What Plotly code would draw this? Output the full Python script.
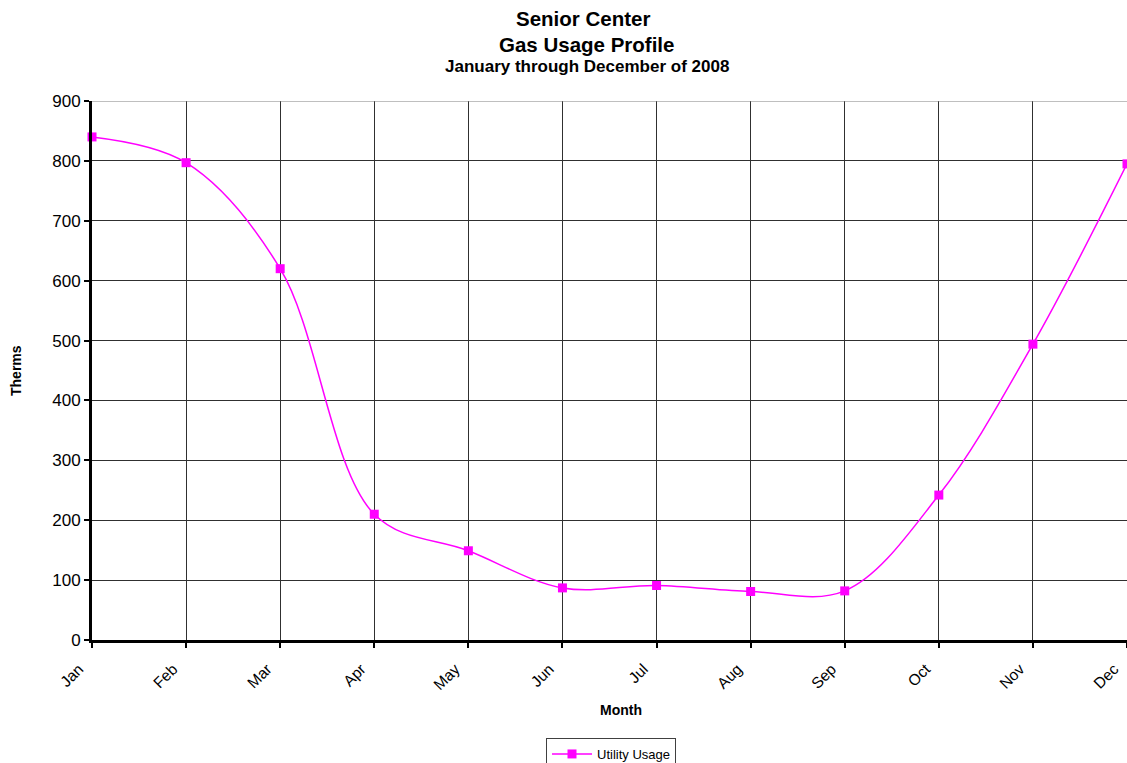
import plotly.graph_objects as go

months = ["Jan", "Feb", "Mar", "Apr", "May", "Jun", "Jul", "Aug", "Sep", "Oct", "Nov", "Dec"]
usage = [840, 797, 620, 210, 149, 87, 91, 81, 82, 242, 494, 795]
series_name = "Utility Usage"

FONT = "Arial, Liberation Sans, sans-serif"

L, R, T, B = 92, 0, 101, 123
W, H = 1127, 763
pw = W - L - R
ph = H - T - B


def px_x(x):
    return (x - L) / pw


def px_y(y_from_top):
    return (H - B - y_from_top) / ph


fig = go.Figure()
fig.add_trace(go.Scatter(
    x=months, y=usage, name=series_name, mode="lines+markers",
    line=dict(color="#FF00FF", width=1.5, shape="spline", smoothing=1),
    marker=dict(symbol="square", size=9, color="#FF00FF"),
    cliponaxis=False,
))

fig.update_layout(
    width=W, height=H,
    margin=dict(l=L, r=R, t=T, b=B, autoexpand=False),
    paper_bgcolor="white", plot_bgcolor="white",
    font=dict(family=FONT, size=13, color="black"),
    showlegend=True,
    legend=dict(
        orientation="h", x=px_x(611), xanchor="center", y=px_y(738), yanchor="top",
        xref="paper", yref="paper",
        bordercolor="#404040", borderwidth=1, bgcolor="white",
        font=dict(family=FONT, size=13),
        itemwidth=40,
    ),
    xaxis=dict(
        type="category", range=[0, 11], automargin=False,
        tickangle=-45, showgrid=True, gridcolor="#303030", gridwidth=1,
        showline=True, linecolor="black", linewidth=3,
        ticks="outside", ticklen=5, tickcolor="black", tickwidth=2,
        tickfont=dict(family=FONT, size=15.5),
        ticklabelshift=-13, ticklabelstandoff=6,
        zeroline=False,
    ),
    yaxis=dict(
        range=[0, 900], dtick=100, automargin=False, showgrid=True, gridcolor="#303030", gridwidth=1,
        showline=True, linecolor="black", linewidth=3,
        ticks="outside", ticklen=5, tickcolor="black", tickwidth=2,
        tickfont=dict(family=FONT, size=17),
        zeroline=False,
    ),
    annotations=[
        dict(text="<b>Senior Center</b>", x=px_x(583), y=px_y(18), font=dict(size=20.5, family=FONT)),
        dict(text="<b>Gas Usage Profile</b>", x=px_x(586), y=px_y(44), font=dict(size=20.5, family=FONT)),
        dict(text="<b>January through December of 2008</b>", x=px_x(587), y=px_y(66),
             font=dict(size=17, family=FONT)),
        dict(text="<b>Month</b>", x=px_x(621), y=px_y(710), font=dict(size=14, family=FONT)),
        dict(text="<b>Therms</b>", x=px_x(16), y=px_y(371), textangle=-90,
             font=dict(size=14, family=FONT)),
    ],
)

for a in fig.layout.annotations:
    a.xref = "paper"
    a.yref = "paper"
    a.xanchor = "center"
    a.yanchor = "middle"
    a.showarrow = False

# top border line at 900
fig.add_shape(type="line", xref="paper", yref="y", x0=0, x1=1, y0=900, y1=900,
              line=dict(color="#808080", width=1))

fig.write_html(
    "out.html",
    config={"displayModeBar": False},
    post_script="document.body.style.margin='0';document.body.style.overflow='hidden';",
)
